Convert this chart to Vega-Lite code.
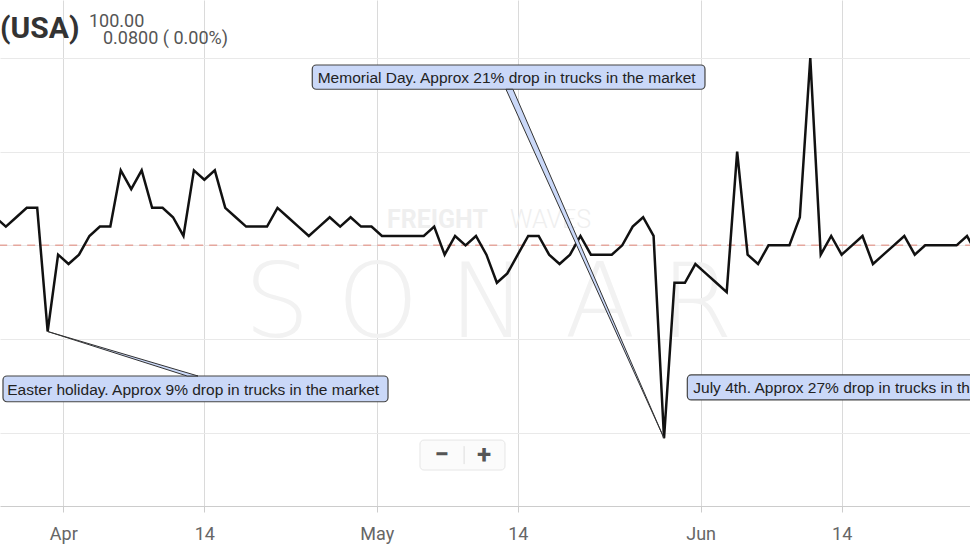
{
  "$schema": "https://vega.github.io/schema/vega-lite/v6.json",
  "width": 970,
  "height": 506,
  "autosize": {"type": "none"},
  "padding": {"left": 0, "top": 0, "right": 0, "bottom": 40},
  "background": "#ffffff",
  "config": {"view": {"stroke": null}, "font": "Roboto"},
  "datasets": {
    "series": [
      {"date": "2018-03-25", "value": 103}, {"date": "2018-03-26", "value": 102}, {"date": "2018-03-27", "value": 103},
      {"date": "2018-03-28", "value": 104}, {"date": "2018-03-29", "value": 104}, {"date": "2018-03-30", "value": 90.8},
      {"date": "2018-03-31", "value": 99}, {"date": "2018-04-01", "value": 98}, {"date": "2018-04-02", "value": 99},
      {"date": "2018-04-03", "value": 101}, {"date": "2018-04-04", "value": 102}, {"date": "2018-04-05", "value": 102},
      {"date": "2018-04-06", "value": 108}, {"date": "2018-04-07", "value": 106}, {"date": "2018-04-08", "value": 108},
      {"date": "2018-04-09", "value": 104}, {"date": "2018-04-10", "value": 104}, {"date": "2018-04-11", "value": 103},
      {"date": "2018-04-12", "value": 101}, {"date": "2018-04-13", "value": 108}, {"date": "2018-04-14", "value": 107},
      {"date": "2018-04-15", "value": 108}, {"date": "2018-04-16", "value": 104}, {"date": "2018-04-17", "value": 103},
      {"date": "2018-04-18", "value": 102}, {"date": "2018-04-19", "value": 102}, {"date": "2018-04-20", "value": 102},
      {"date": "2018-04-21", "value": 104}, {"date": "2018-04-22", "value": 103}, {"date": "2018-04-23", "value": 102},
      {"date": "2018-04-24", "value": 101}, {"date": "2018-04-25", "value": 102}, {"date": "2018-04-26", "value": 103},
      {"date": "2018-04-27", "value": 102}, {"date": "2018-04-28", "value": 103}, {"date": "2018-04-29", "value": 102},
      {"date": "2018-04-30", "value": 102}, {"date": "2018-05-01", "value": 101}, {"date": "2018-05-02", "value": 101},
      {"date": "2018-05-03", "value": 101}, {"date": "2018-05-04", "value": 101}, {"date": "2018-05-05", "value": 101},
      {"date": "2018-05-06", "value": 102}, {"date": "2018-05-07", "value": 99}, {"date": "2018-05-08", "value": 101},
      {"date": "2018-05-09", "value": 100}, {"date": "2018-05-10", "value": 101}, {"date": "2018-05-11", "value": 99},
      {"date": "2018-05-12", "value": 96}, {"date": "2018-05-13", "value": 97}, {"date": "2018-05-14", "value": 99},
      {"date": "2018-05-15", "value": 101}, {"date": "2018-05-16", "value": 101}, {"date": "2018-05-17", "value": 99},
      {"date": "2018-05-18", "value": 98}, {"date": "2018-05-19", "value": 99}, {"date": "2018-05-20", "value": 101},
      {"date": "2018-05-21", "value": 99}, {"date": "2018-05-22", "value": 99}, {"date": "2018-05-23", "value": 99},
      {"date": "2018-05-24", "value": 100}, {"date": "2018-05-25", "value": 102}, {"date": "2018-05-26", "value": 103},
      {"date": "2018-05-27", "value": 101}, {"date": "2018-05-28", "value": 79.4}, {"date": "2018-05-29", "value": 96},
      {"date": "2018-05-30", "value": 96}, {"date": "2018-05-31", "value": 98}, {"date": "2018-06-01", "value": 97},
      {"date": "2018-06-02", "value": 96}, {"date": "2018-06-03", "value": 95}, {"date": "2018-06-04", "value": 110},
      {"date": "2018-06-05", "value": 99}, {"date": "2018-06-06", "value": 98}, {"date": "2018-06-07", "value": 100},
      {"date": "2018-06-08", "value": 100}, {"date": "2018-06-09", "value": 100}, {"date": "2018-06-10", "value": 103},
      {"date": "2018-06-11", "value": 120}, {"date": "2018-06-12", "value": 99}, {"date": "2018-06-13", "value": 101},
      {"date": "2018-06-14", "value": 99}, {"date": "2018-06-15", "value": 100}, {"date": "2018-06-16", "value": 101},
      {"date": "2018-06-17", "value": 98}, {"date": "2018-06-18", "value": 99}, {"date": "2018-06-19", "value": 100},
      {"date": "2018-06-20", "value": 101}, {"date": "2018-06-21", "value": 99}, {"date": "2018-06-22", "value": 100},
      {"date": "2018-06-23", "value": 100}, {"date": "2018-06-24", "value": 100}, {"date": "2018-06-25", "value": 100},
      {"date": "2018-06-26", "value": 101}, {"date": "2018-06-27", "value": 99}
    ],
    "refline": [{"date": "2018-03-20", "date2": "2018-07-05", "value": 100}],
    "boxes": [
      {"date": "2018-03-25T17:25:00Z", "date2": "2018-05-01T13:55:00Z", "value": 86.05, "value2": 83.3},
      {"date": "2018-04-24T07:55:00Z", "date2": "2018-05-31T22:05:00Z", "value": 119.25, "value2": 116.66},
      {"date": "2018-05-30T05:30:00Z", "date2": "2018-07-02T05:15:00Z", "value": 86.16, "value2": 83.49}
    ],
    "notes": [
      {"date": "2018-03-26T03:15:00Z", "value": 84.07, "label": "Easter holiday. Approx 9% drop in trucks in the market"},
      {"date": "2018-04-24T20:25:00Z", "value": 117.35, "label": "Memorial Day. Approx 21% drop in trucks in the market"},
      {"date": "2018-05-30T19:10:00Z", "value": 84.22, "label": "July 4th. Approx 27% drop in trucks in the market"}
    ],
    "pointers": [
      {"name": "easter", "i": 1, "date": "2018-03-30", "value": 90.8},
      {"name": "easter", "i": 2, "date": "2018-04-12T08:20:00Z", "value": 86.05},
      {"name": "easter", "i": 3, "date": "2018-04-13T09:25:00Z", "value": 86.05},
      {"name": "easter", "i": 4, "date": "2018-03-30", "value": 90.8},
      {"name": "memorial", "i": 1, "date": "2018-05-28", "value": 79.4},
      {"name": "memorial", "i": 2, "date": "2018-05-12T20:55:00Z", "value": 116.66},
      {"name": "memorial", "i": 3, "date": "2018-05-13T12:55:00Z", "value": 116.66},
      {"name": "memorial", "i": 4, "date": "2018-05-28", "value": 79.4}
    ],
    "title": [{"date": "2018-03-25T10:32:00Z", "value": 122.1, "label": "(USA)"}],
    "quote": [
      {"date": "2018-04-02T23:00:00Z", "value": 123.27, "label": "100.00"},
      {"date": "2018-04-04T07:10:00Z", "value": 121.49, "label": "0.0800 ( 0.00%)"}
    ],
    "brand1": [{"date": "2018-05-01T11:30:00Z", "value": 101.85, "label": "FREIGHT"}],
    "brand2": [{"date": "2018-05-13T06:15:00Z", "value": 101.85, "label": "WAVES"}],
    "sonar": [
      {"date": "2018-04-20T22:50:00Z", "value": 90.21, "label": "S"},
      {"date": "2018-04-30T14:50:00Z", "value": 90.21, "label": "O"},
      {"date": "2018-05-11T03:35:00Z", "value": 90.21, "label": "N"},
      {"date": "2018-05-21T20:50:00Z", "value": 90.21, "label": "A"},
      {"date": "2018-05-31T03:35:00Z", "value": 90.21, "label": "R"}
    ],
    "control": [{"date": "2018-05-04T15:20:00Z", "date2": "2018-05-12T18:40:00Z", "value": 79.21, "value2": 76.01}],
    "controlSep": [{"date": "2018-05-08T20:40:00Z", "value": 78.56, "value2": 76.64}],
    "controlText": [
      {"date": "2018-05-06T17:15:00Z", "value": 77.61, "label": "−"},
      {"date": "2018-05-10T18:25:00Z", "value": 77.61, "label": "+"}
    ]
  },
  "encoding": {
    "x": {
      "field": "date",
      "type": "temporal",
      "scale": {
        "type": "utc",
        "domain": [
          {"year": 2018, "month": 3, "date": 25, "hours": 10, "minutes": 32, "utc": true},
          {"year": 2018, "month": 6, "date": 26, "hours": 6, "minutes": 55, "utc": true}
        ]
      },
      "axis": {
        "title": null,
        "values": [
          {"year": 2018, "month": 3, "date": 31, "hours": 12, "utc": true},
          {"year": 2018, "month": 4, "date": 14, "utc": true},
          {"year": 2018, "month": 4, "date": 30, "hours": 12, "utc": true},
          {"year": 2018, "month": 5, "date": 14, "utc": true},
          {"year": 2018, "month": 5, "date": 31, "hours": 12, "utc": true},
          {"year": 2018, "month": 6, "date": 14, "utc": true}
        ],
        "labelExpr": "utchours(datum.value) == 12 ? utcFormat(datum.value + 43200000, '%b') : utcFormat(datum.value, '%d')",
        "grid": true,
        "gridColor": "#dadada",
        "gridWidth": 1,
        "domainColor": "#cccccc",
        "tickColor": "#cccccc",
        "tickSize": 6,
        "labelFont": "Roboto",
        "labelFontSize": 18,
        "labelColor": "#666666",
        "labelPadding": 13,
        "labelFlush": false,
        "labelOverlap": false
      }
    },
    "y": {
      "field": "value",
      "type": "quantitative",
      "scale": {"domain": [72.17, 126.19], "nice": false, "zero": false},
      "axis": {
        "title": null,
        "values": [80, 90, 100, 110, 120],
        "labels": false,
        "ticks": false,
        "domain": false,
        "grid": true,
        "gridColor": "#e9e9e9"
      }
    }
  },
  "layer": [
    {
      "data": {"name": "sonar"},
      "mark": {"type": "text", "font": "DejaVu Sans", "fontWeight": 200, "fontSize": 104, "color": "#f2f2f2", "align": "center", "baseline": "alphabetic"},
      "encoding": {"text": {"field": "label"}}
    },
    {
      "data": {"name": "brand1"},
      "mark": {"type": "text", "font": "Roboto", "fontWeight": "bold", "fontSize": 25, "color": "#efefef", "align": "left", "baseline": "alphabetic"},
      "encoding": {"text": {"field": "label"}}
    },
    {
      "data": {"name": "brand2"},
      "mark": {"type": "text", "font": "Roboto", "fontWeight": 300, "fontSize": 25, "color": "#efefef", "align": "left", "baseline": "alphabetic"},
      "encoding": {"text": {"field": "label"}}
    },
    {
      "data": {"name": "refline"},
      "mark": {"type": "rule", "color": "#e5a79e", "strokeWidth": 1.5, "strokeDash": [8, 6], "clip": true},
      "encoding": {"x2": {"field": "date2"}}
    },
    {
      "data": {"name": "series"},
      "mark": {"type": "line", "color": "#111111", "strokeWidth": 2.5, "clip": true}
    },
    {
      "data": {"name": "control"},
      "mark": {"type": "rect", "fill": "#fbfbfb", "stroke": "#e6e6e6", "strokeWidth": 1, "cornerRadius": 4},
      "encoding": {"x2": {"field": "date2"}, "y2": {"field": "value2"}}
    },
    {
      "data": {"name": "controlSep"},
      "mark": {"type": "rule", "color": "#dddddd", "strokeWidth": 1},
      "encoding": {"y2": {"field": "value2"}}
    },
    {
      "data": {"name": "controlText"},
      "mark": {"type": "text", "font": "Roboto", "fontWeight": "bold", "fontSize": 26, "color": "#555555", "align": "center", "baseline": "middle"},
      "encoding": {"text": {"field": "label"}}
    },
    {
      "data": {"name": "boxes"},
      "mark": {"type": "rect", "fill": "#cad8f8", "stroke": "#444444", "strokeWidth": 1.2, "cornerRadius": 4, "clip": true},
      "encoding": {"x2": {"field": "date2"}, "y2": {"field": "value2"}}
    },
    {
      "data": {"name": "pointers"},
      "mark": {"type": "line", "fill": "#cad8f8", "stroke": "#333333", "strokeWidth": 1, "strokeJoin": "miter"},
      "encoding": {"detail": {"field": "name"}, "order": {"field": "i"}}
    },
    {
      "data": {"name": "notes"},
      "mark": {"type": "text", "font": "Liberation Sans", "fontSize": 15.5, "color": "#222222", "align": "left", "baseline": "alphabetic"},
      "encoding": {"text": {"field": "label"}}
    },
    {
      "data": {"name": "title"},
      "mark": {"type": "text", "font": "Roboto", "fontWeight": "bold", "fontSize": 30, "color": "#333333", "align": "left", "baseline": "alphabetic"},
      "encoding": {"text": {"field": "label"}}
    },
    {
      "data": {"name": "quote"},
      "mark": {"type": "text", "font": "Roboto", "fontSize": 18, "color": "#555555", "align": "left", "baseline": "alphabetic"},
      "encoding": {"text": {"field": "label"}}
    }
  ]
}
